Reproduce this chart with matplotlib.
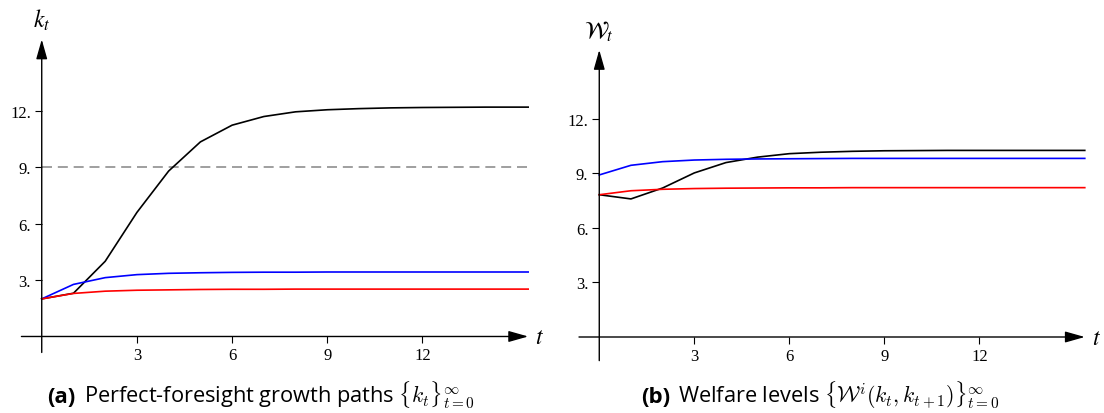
import numpy as np
import matplotlib
matplotlib.use("Agg")
import matplotlib.pyplot as plt

# periods (last point is where the plotted domain stops)
t = [0, 1, 2, 3, 4, 5, 6, 7, 8, 9, 10, 11, 12, 13, 14, 15, 15.33]

# (a) capital paths
k_black = [2.0, 2.3, 4.0, 6.6, 8.8, 10.35, 11.24, 11.7, 11.95, 12.06, 12.12, 12.16, 12.18, 12.19, 12.2, 12.2, 12.2]
k_blue = [2.0, 2.77, 3.13, 3.29, 3.36, 3.39, 3.41, 3.42, 3.42, 3.43, 3.43, 3.43, 3.43, 3.43, 3.43, 3.43, 3.43]
k_red = [2.0, 2.29, 2.41, 2.46, 2.48, 2.5, 2.51, 2.51, 2.52, 2.52, 2.52, 2.52, 2.52, 2.52, 2.52, 2.52, 2.52]
k_ref = 9.0

# (b) welfare levels
w_black = [7.83, 7.6, 8.2, 9.03, 9.6, 9.9, 10.09, 10.17, 10.22, 10.25, 10.26, 10.27, 10.27, 10.27, 10.27, 10.27, 10.27]
w_blue = [8.92, 9.45, 9.65, 9.74, 9.78, 9.8, 9.81, 9.82, 9.83, 9.83, 9.83, 9.83, 9.83, 9.83, 9.83, 9.83, 9.83]
w_red = [7.83, 8.05, 8.13, 8.17, 8.19, 8.2, 8.21, 8.21, 8.22, 8.22, 8.22, 8.22, 8.22, 8.22, 8.22, 8.22, 8.22]

xticks = [3, 6, 9, 12]
yticks = [3, 6, 9, 12]
ytick_labels = ["3.", "6.", "9.", "12."]

fig = plt.figure(figsize=(11.04, 4.14), dpi=100)
axL = fig.add_axes([0.00906, 0.0940, 0.4886, 0.8401])
axR = fig.add_axes([0.51413, 0.0958, 0.48768, 0.8119])


def setup(ax, ylab, ybottom):
    ax.set_xlim(-1, 16)
    ax.set_ylim(-2, 16.5)
    for s in ax.spines.values():
        s.set_visible(False)
    ax.spines['bottom'].set_position(('data', 0))
    ax.spines['left'].set_position(('data', 0))
    ax.spines['bottom'].set_visible(True)
    ax.spines['left'].set_visible(True)
    ax.spines['bottom'].set_color('none')
    ax.spines['left'].set_color('none')
    ax.set_xticks(xticks)
    ax.set_xticklabels([str(v) for v in xticks])
    ax.set_yticks(yticks)
    ax.set_yticklabels(ytick_labels)
    ax.tick_params(direction='out', length=4.8, width=0.8, labelsize=12, pad=3)
    for lab in ax.get_xticklabels() + ax.get_yticklabels():
        lab.set_family('Liberation Serif')
    ax.patch.set_visible(False)
    arrow = dict(arrowstyle='-|>,head_length=0.6,head_width=0.17', mutation_scale=20,
                 lw=1.0, color='black', shrinkA=0, shrinkB=0)
    ax.annotate('', xy=(15.33, 0), xytext=(-0.64, 0), arrowprops=arrow, annotation_clip=False)
    ax.annotate('', xy=(0, 15.8), xytext=(0, ybottom), arrowprops=arrow, annotation_clip=False)
    ax.text(15.55, 0, r'$t$', math_fontfamily='stix', fontsize=17, ha='left', va='center')
    ax.text(0, 16.2, ylab, math_fontfamily='stix', fontsize=17, ha='center', va='bottom')


setup(axL, r'$k_t$', -0.85)
setup(axR, r'$\mathcal{W}_t$', -1.3)

axL.plot([0, t[-1]], [k_ref, k_ref], color='#8f8f8f', lw=1.2, dashes=(6, 3.5))
axL.plot(t, k_black, color='black', lw=1.2)
axL.plot(t, k_blue, color='#0000ff', lw=1.2)
axL.plot(t, k_red, color='#ff0000', lw=1.2)

axR.plot(t, w_black, color='black', lw=1.2)
axR.plot(t, w_blue, color='#0000ff', lw=1.2)
axR.plot(t, w_red, color='#ff0000', lw=1.2)

# captions: bold tag followed by normal text, centred under each panel
captions = [("(a)", r"Perfect-foresight growth paths $\{k_t\}_{t=0}^{\infty}$", 261),
            ("(b)", r"Welfare levels $\{\mathcal{W}^i(k_t,k_{t+1})\}_{t=0}^{\infty}$", 820)]
base_y = (414 - 403) / 414
fig.canvas.draw()
r = fig.canvas.get_renderer()
for tag, rest, cx in captions:
    t1 = fig.text(0, base_y, tag, family='Open Sans', fontweight='bold', fontsize=16, va='baseline')
    t2 = fig.text(0, base_y, rest, family='Open Sans', fontsize=15.7, va='baseline', math_fontfamily='cm')
    w1 = t1.get_window_extent(r).width
    w2 = t2.get_window_extent(r).width
    gap = 8
    x0 = cx - (w1 + gap + w2) / 2
    t1.set_x(x0 / 1104)
    t2.set_x((x0 + w1 + gap) / 1104)

fig.savefig("out.png", dpi=100)
